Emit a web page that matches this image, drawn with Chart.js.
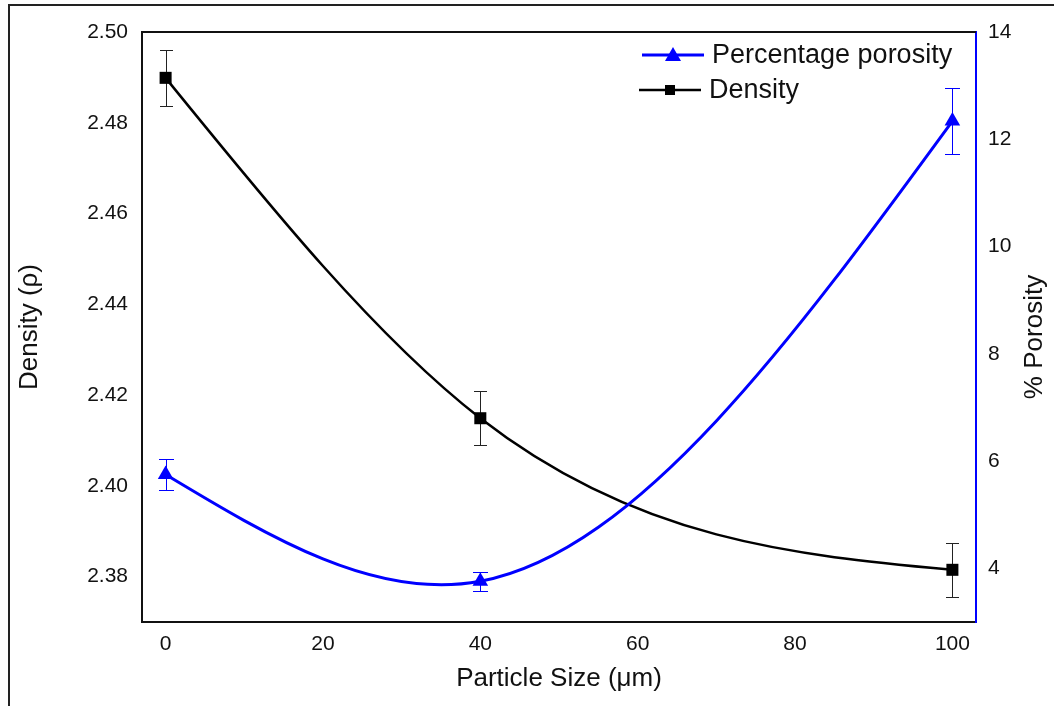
<!DOCTYPE html>
<html>
<head>
<meta charset="utf-8">
<script src="https://cdn.jsdelivr.net/npm/chart.js@4.4.1/dist/chart.umd.min.js"></script>
<style>
  html, body { margin: 0; padding: 0; background: #fff; overflow: hidden; }
  #frame { position: absolute; left: 8px; top: 4px; width: 1200px; height: 800px; border: 2px solid #222; }
  #wrap { position: absolute; left: 0; top: 0; width: 1054px; height: 706px; }
</style>
</head>
<body>
<div id="frame"></div>
<div id="wrap"><canvas id="chart"></canvas></div>
<script>
const sizes = [0, 40, 100];
const density = [2.4899, 2.4149, 2.3815];
const densityErr = [0.0062, 0.006, 0.006];
const porosity = [5.75, 3.76, 12.34];
const porosityErr = [0.29, 0.18, 0.62];

const xTicks = [0, 20, 40, 60, 80, 100];
const densityTicks = [2.38, 2.40, 2.42, 2.44, 2.46, 2.48, 2.50];
const porosityTicks = [4, 6, 8, 10, 12, 14];

const xTitle = "Particle Size (μm)";
const yTitle = "Density (ρ)";
const y2Title = "% Porosity";

const FONT = "'Liberation Sans', Arial, sans-serif";
const INK = "#111";
const BLUE = "#0000ff";

const pts = (ys) => sizes.map((x, i) => ({ x, y: ys[i] }));
const setTicks = (list) => (scale) => { scale.ticks = list.map((v) => ({ value: v })); };

// natural cubic spline through the points (the original is a smooth spline, not chart.js' default curve)
const naturalSpline = {
  id: "naturalSpline",
  beforeDatasetDraw(chart, args) {
    const meta = args.meta, p = meta.data, n = p.length;
    if (n < 3) return;
    const h = [], d = [];
    for (let i = 0; i < n - 1; i++) { h[i] = p[i + 1].x - p[i].x; d[i] = (p[i + 1].y - p[i].y) / h[i]; }
    // tridiagonal solve for second derivatives, M[0] = M[n-1] = 0
    const M = new Array(n).fill(0), c = [], r = [];
    for (let i = 1; i < n - 1; i++) {
      const a = h[i - 1], b = 2 * (h[i - 1] + h[i]), cc = h[i], rhs = 6 * (d[i] - d[i - 1]);
      const den = i === 1 ? b : b - a * c[i - 1];
      c[i] = cc / den;
      r[i] = (rhs - (i === 1 ? 0 : a * r[i - 1])) / den;
    }
    for (let i = n - 2; i >= 1; i--) M[i] = r[i] - (i < n - 2 ? c[i] * M[i + 1] : 0);
    for (let i = 0; i < n - 1; i++) {
      const sL = d[i] - h[i] * (2 * M[i] + M[i + 1]) / 6;
      const sR = d[i] + h[i] * (M[i] + 2 * M[i + 1]) / 6;
      p[i].cp2x = p[i].x + h[i] / 3; p[i].cp2y = p[i].y + sL * h[i] / 3;
      p[i + 1].cp1x = p[i + 1].x - h[i] / 3; p[i + 1].cp1y = p[i + 1].y - sR * h[i] / 3;
    }
    p[0].cp1x = p[0].x; p[0].cp1y = p[0].y;
    p[n - 1].cp2x = p[n - 1].x; p[n - 1].cp2y = p[n - 1].y;
    meta.dataset._pointsUpdated = true;
    meta.dataset._path = undefined;
  },
};

// error bars, drawn under the markers
const errorBars = {
  id: "errorBars",
  beforeDatasetsDraw(chart) {
    const { ctx } = chart;
    chart.data.datasets.forEach((ds) => {
      const sx = chart.scales.x, sy = chart.scales[ds.yAxisID];
      ctx.save();
      ctx.strokeStyle = ds.errColor;
      ctx.lineWidth = 1;
      ds.data.forEach((p, i) => {
        const x = Math.round(sx.getPixelForValue(p.x));
        const top = Math.round(sy.getPixelForValue(p.y + ds.err[i]));
        const bot = Math.round(sy.getPixelForValue(p.y - ds.err[i]));
        const c = ds.capHalf;
        ctx.beginPath();
        ctx.moveTo(x + 0.5, top); ctx.lineTo(x + 0.5, bot);
        ctx.moveTo(x - c, top + 0.5); ctx.lineTo(x + c + 1, top + 0.5);
        ctx.moveTo(x - c, bot + 0.5); ctx.lineTo(x + c + 1, bot + 0.5);
        ctx.stroke();
      });
      ctx.restore();
    });
  },
};

// top frame line, right axis title (reads upward) and legend inside the plot
const frameAndLegend = {
  id: "frameAndLegend",
  afterDraw(chart) {
    const { ctx, chartArea: a } = chart;
    ctx.save();
    ctx.strokeStyle = INK;
    ctx.lineWidth = 2;
    ctx.beginPath();
    ctx.moveTo(a.left - 1, a.top); ctx.lineTo(a.right, a.top);
    ctx.stroke();

    ctx.save();
    ctx.translate(1035, 337);
    ctx.rotate(-Math.PI / 2);
    ctx.fillStyle = INK;
    ctx.font = "26px " + FONT;
    ctx.textAlign = "center";
    ctx.textBaseline = "middle";
    ctx.fillText(y2Title, 0, 0);
    ctx.restore();

    const rows = [{ x: 642, y: 55 }, { x: 639, y: 90 }];
    chart.data.datasets.forEach((ds, i) => {
      const { x, y } = rows[i];
      ctx.strokeStyle = ds.borderColor;
      ctx.fillStyle = ds.borderColor;
      ctx.lineWidth = ds.borderWidth;
      ctx.beginPath();
      ctx.moveTo(x, y); ctx.lineTo(x + 62, y);
      ctx.stroke();
      const cx = x + 31;
      ctx.beginPath();
      if (ds.pointStyle === "triangle") {
        ctx.moveTo(cx, y - 8); ctx.lineTo(cx + 8, y + 6); ctx.lineTo(cx - 8, y + 6);
      } else {
        ctx.rect(cx - 5, y - 5, 10, 10);
      }
      ctx.fill();
      ctx.fillStyle = INK;
      ctx.font = "27px " + FONT;
      ctx.textBaseline = "middle";
      ctx.fillText(ds.label, x + 70, y + 1);
    });
    ctx.restore();
  },
};

new Chart(document.getElementById("chart"), {
  type: "line",
  data: {
    datasets: [
      {
        label: "Percentage porosity",
        data: pts(porosity), err: porosityErr, errColor: BLUE, capHalf: 7,
        yAxisID: "y2",
        borderColor: BLUE, backgroundColor: BLUE, borderWidth: 3,
        pointStyle: "triangle", pointRadius: 9, pointBorderWidth: 0,
        tension: 0.4,
      },
      {
        label: "Density",
        data: pts(density), err: densityErr, errColor: "#222", capHalf: 6,
        yAxisID: "y",
        borderColor: "#000", backgroundColor: "#000", borderWidth: 2.5,
        pointStyle: "rect", pointRadius: 8.5, pointBorderWidth: 0,
        tension: 0.4,
      },
    ],
  },
  options: {
    responsive: true, maintainAspectRatio: false, animation: false,
    layout: { padding: { top: 32, left: 0, right: 0, bottom: 0 } },
    plugins: { legend: { display: false }, tooltip: { enabled: false } },
    scales: {
      x: {
        type: "linear", min: -3, max: 103,
        afterBuildTicks: setTicks(xTicks),
        afterFit: (s) => { s.height = 84; },
        grid: { display: false },
        border: { display: true, color: INK, width: 2 },
        ticks: { color: INK, padding: 2, font: { family: FONT, size: 21 } },
        title: { display: true, text: xTitle, color: INK, font: { family: FONT, size: 26 }, padding: { top: 0, bottom: 12 } },
      },
      y: {
        position: "left", min: 2.37, max: 2.50,
        afterBuildTicks: setTicks(densityTicks),
        afterFit: (s) => { s.width = 142; },
        grid: { display: false },
        border: { display: true, color: INK, width: 2 },
        ticks: { color: INK, padding: 6, font: { family: FONT, size: 21 }, callback: (v) => v.toFixed(2) },
        title: { display: true, text: yTitle, color: INK, font: { family: FONT, size: 26 }, padding: { top: 14, bottom: 0 } },
      },
      y2: {
        position: "right", min: 3, max: 14,
        afterBuildTicks: setTicks(porosityTicks),
        afterFit: (s) => { s.width = 78; },
        grid: { display: false },
        border: { display: true, color: BLUE, width: 2 },
        ticks: { color: INK, padding: 4, font: { family: FONT, size: 21 } },
        title: { display: false },
      },
    },
  },
  plugins: [naturalSpline, errorBars, frameAndLegend],
});
</script>
</body>
</html>
